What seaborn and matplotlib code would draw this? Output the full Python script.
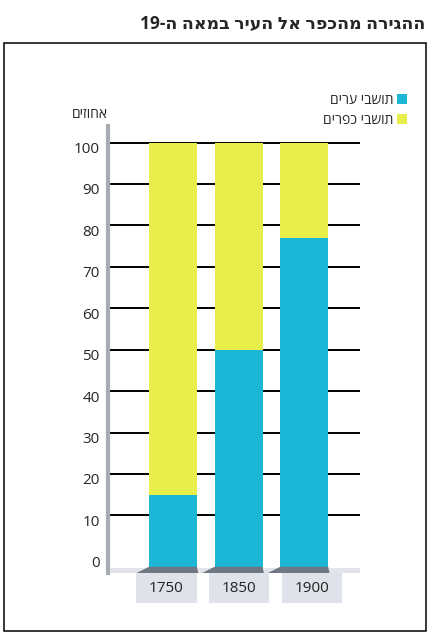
import re
import matplotlib
matplotlib.use("Agg")
import matplotlib.pyplot as plt
import matplotlib.transforms as mtransforms
from matplotlib.patches import Rectangle, Polygon
import pandas as pd
import seaborn as sns

# Data (percent of population)
years = ["1750", "1850", "1900"]
city = [15, 50, 77]
village = [85, 50, 23]
yticks = list(range(0, 101, 10))

title = "ההגירה מהכפר אל העיר במאה ה-19"
city_label = "תושבי ערים"
village_label = "תושבי כפרים"
ylabel = "אחוזים"

CYAN = "#1cb6d6"
YELLOW = "#e8ee4a"


def rtl(s):
    # matplotlib has no bidi support: flip to visual order, keep digit runs
    out = s[::-1]
    return re.sub(r"\d+", lambda m: m.group(0)[::-1], out)


sns.set_style("white")
plt.rcParams["font.family"] = ["Open Sans", "DejaVu Sans"]

df = pd.DataFrame({"year": years, "city": city, "village": village})
df["total"] = df["city"] + df["village"]

fig = plt.figure(figsize=(4.32, 6.36), dpi=100)
W, H = 432, 636
# axes: x from 108 to 360 px, y from 126 to 573 px
ax = fig.add_axes([108 / W, 1 - 573 / H, (360 - 108) / W, (573 - 126) / H])

sns.barplot(data=df, x="year", y="total", color=YELLOW, saturation=1,
            width=0.73, label=village_label, ax=ax, zorder=3)
sns.barplot(data=df, x="year", y="city", color=CYAN, saturation=1,
            width=0.73, label=city_label, ax=ax, zorder=4)
if ax.get_legend() is not None:
    ax.get_legend().remove()

# bars sit on a 3D-ish floor slightly below zero
base = -2.4
for p in ax.patches:
    p.set_y(base)
    p.set_height(p.get_height() - base)
    p.set_linewidth(0)

ax.set_xlim(-0.99, 2.85)
ax.set_ylim(-3.9, 104)

# grid lines
for t in yticks[1:]:
    ax.axhline(t, color="black", lw=1.4, zorder=1)

ax.set_yticks(yticks)
ax.set_yticklabels([str(t) for t in yticks], fontsize=11)
ax.tick_params(axis="y", length=0, pad=6)
off = mtransforms.ScaledTranslation(0, -5 / 100, fig.dpi_scale_trans)
for lab in ax.get_yticklabels():
    lab.set_transform(lab.get_transform() + off)
ax.set_xticks([])
ax.set_xlabel("")
ax.set_ylabel("")
for s in ["top", "right", "bottom"]:
    ax.spines[s].set_visible(False)
ax.spines["left"].set_color("#a9abb3")
ax.spines["left"].set_linewidth(3)

# floor band
ax.add_patch(Rectangle((-0.99, -3.9), 3.84, 1.3, color="#e2e4ea", lw=0,
                       zorder=2, clip_on=False))
bw = 0.73
for i, yr in enumerate(years):
    l, r = i - bw / 2, i + bw / 2
    ax.add_patch(Polygon([(l, base), (r, base), (r + 0.02, -3.9), (l - 0.19, -3.9)],
                         closed=True, color="#6f7784", lw=0, zorder=5, clip_on=False))
    # label box in perspective
    bl = l - 0.2 + 0.115 * i
    br = r + 0.105 * i
    ax.add_patch(Rectangle((bl, -11.1), br - bl, 7.2, color="#dfe2ea", lw=0,
                           zorder=2, clip_on=False))
    ax.text((bl + br) / 2, -7.6, yr, ha="center", va="center", fontsize=11,
            color="#222222", zorder=6, clip_on=False)

# legend (markers on the right, Hebrew style)
h, lab = ax.get_legend_handles_labels()
order = [1, 0]
leg = fig.legend([h[i] for i in order], [rtl(lab[i]) for i in order],
                 loc="upper right", bbox_to_anchor=(414 / W, 1 - 86 / H),
                 frameon=False, markerfirst=False, fontsize=10,
                 handlelength=0.75, handleheight=0.75, handletextpad=0.25,
                 labelspacing=0.35, borderpad=0)

fig.text(90 / W, 1 - 115 / H, rtl(ylabel), ha="center", va="center", fontsize=10)
fig.text(425 / W, 1 - 24 / H, rtl(title), ha="right", va="center",
         fontsize=12.5, fontweight="bold")

# page frame
fig.add_artist(Rectangle((4 / W, 1 - 631 / H), 422 / W, 588 / H, fill=False,
                         ec="black", lw=1.1, transform=fig.transFigure))

fig.savefig("out.png", dpi=100)
